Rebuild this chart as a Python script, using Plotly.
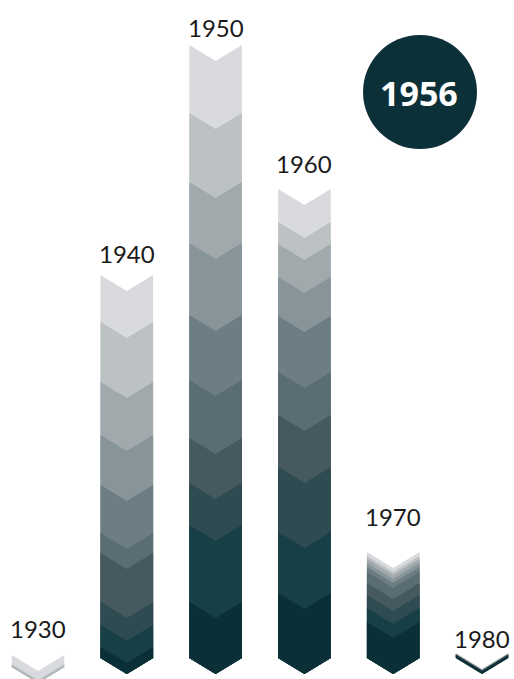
import plotly.graph_objects as go

# Decades (columns) and the ten yearly bands per column, listed top (light) to bottom (dark)
decades = ["1930", "1940", "1950", "1960", "1970", "1980"]
v1930 = [9, 2, 1, 0, 0, 0, 0, 0, 0, 0]
v1940 = [47, 60, 53, 50, 48, 20, 49, 23, 22, 11]
v1950 = [68, 69, 61, 72, 65, 58, 45, 42, 77, 56]
v1960 = [33, 22, 33, 39, 56, 43, 52, 65, 61, 65]
v1970 = [4, 3, 4, 4, 5, 11, 12, 13, 14, 36]
v1980 = [0.6, 0, 0.6, 0, 0, 0, 1, 0, 0, 3]
col_base = [-9, 0, 0, 0, 0, 0]
label_y = [30, 405, 631, 495, 142, 20]
highlight = "1956"

band_colors = ["#d8dade", "#bcc1c4", "#a1a9ad", "#87959a", "#6c7d83",
               "#5a6d72", "#45595e", "#2e4b51", "#173f46", "#0b2f37"]

series = [v1930, v1940, v1950, v1960, v1970, v1980]

half_w = 0.296   # half column width in x units
depth = 16       # chevron depth in y units

fig = go.Figure()
for i, vals in enumerate(series):
    c = i
    base = col_base[i]
    total = sum(vals)
    # draw each band from its top edge down to the column base, lightest first
    top = base + total
    for k, v in enumerate(vals):
        if v <= 0:
            continue
        t = top
        b = base
        xs = [c - half_w, c, c + half_w, c + half_w, c, c - half_w, c - half_w]
        ys = [t, t - depth, t, b, b - depth, b, t]
        fig.add_trace(go.Scatter(
            x=xs, y=ys, mode="lines", fill="toself",
            fillcolor=band_colors[k], line=dict(width=0, color=band_colors[k]),
            hoverinfo="skip", showlegend=False))
        top -= v
    fig.add_annotation(x=c, y=label_y[i], text=decades[i], showarrow=False,
                       xanchor="center", yanchor="middle",
                       font=dict(family="Lato", size=24, color="#1a1a1a", weight=400))

# highlight badge
fig.add_shape(type="circle", xref="paper", yref="paper",
              x0=363 / 514, x1=477 / 514, y0=1 - 149 / 679, y1=1 - 35 / 679,
              fillcolor="#0b3038", line=dict(width=0), layer="above")
fig.add_annotation(xref="paper", yref="paper", x=419 / 514, y=1 - 93 / 679,
                   text="<b>" + highlight + "</b>", showarrow=False,
                   xanchor="center", yanchor="middle",
                   font=dict(family="Open Sans", size=34, color="white"))

fig.update_layout(
    width=514, height=679,
    margin=dict(l=0, r=0, t=0, b=0),
    paper_bgcolor="white", plot_bgcolor="white",
    showlegend=False,
    xaxis=dict(range=[-0.428, 5.36], visible=False, fixedrange=True),
    yaxis=dict(range=[-21, 658], visible=False, fixedrange=True),
)

fig.write_html("out.html", config={"displayModeBar": False},
               post_script="document.body.style.margin='0px';document.body.style.overflow='hidden';")
